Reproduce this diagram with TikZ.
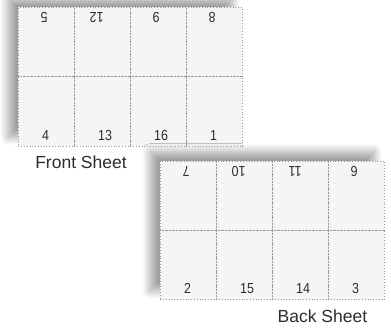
\documentclass[tikz,border=0pt]{standalone}
\usepackage{fontspec}
\setmainfont{Liberation Sans}
\newfontfamily\pagenumfont[FakeStretch=0.86]{Liberation Sans}
\definecolor{SheetGray}{RGB}{245, 245, 245}
\definecolor{RuleGray}{RGB}{150, 150, 150}
\definecolor{NumDark}{RGB}{45, 45, 45}
\usetikzlibrary{positioning, shadows.blur}

\begin{document}
\begin{tikzpicture}[x=1pt, y=-1pt,
  sheet/.style={fill=SheetGray, minimum width=224pt, minimum height=139pt, inner sep=0pt,
    blur shadow={shadow xshift=-10pt, shadow yshift=9pt, shadow blur radius=8pt, shadow blur steps=24, shadow opacity=38}},
  cell/.style={draw=RuleGray, dash pattern=on 0.9pt off 1.9pt, line width=0.8pt, minimum width=56pt, minimum height=69.5pt, inner sep=0pt},
  pagenum/.style={font=\fontsize{14.5}{15}\pagenumfont, text=NumDark, inner sep=0pt},
  sheettitle/.style={font=\fontsize{17.5}{20}\selectfont, text=NumDark, inner sep=0pt}]
\useasboundingbox (0,0) rectangle (391,329);
\node[sheet, anchor=north west] (front) at (18,7) {};
\node[sheet, anchor=north west] (back) at (160,160.5) {};
% front sheet: upper row printed upside down
\foreach \i/\t/\b in {1/5/4, 2/12/13, 3/9/16, 4/8/1} {
  \node[cell, anchor=north west, xshift={(\i-1)*56pt}] (ft\i) at (front.north west) {};
  \node[cell, anchor=south west, xshift={(\i-1)*56pt}] (fb\i) at (front.south west) {};
  \node[pagenum, rotate=180, anchor=base west] (nft\i) at ([xshift=-27pt, yshift=-6pt]ft\i.north east) {\t};
  \node[pagenum, anchor=base west] (nfb\i) at ([xshift=24pt, yshift=6pt]fb\i.south west) {\b};
}
% back sheet
\foreach \i/\t/\b in {1/7/2, 2/10/15, 3/11/14, 4/6/3} {
  \node[cell, anchor=north west, xshift={(\i-1)*56pt}] (bt\i) at (back.north west) {};
  \node[cell, anchor=south west, xshift={(\i-1)*56pt}] (bb\i) at (back.south west) {};
  \node[pagenum, rotate=180, anchor=base west] (nbt\i) at ([xshift=-27pt, yshift=-6pt]bt\i.north east) {\t};
  \node[pagenum, anchor=base west] (nbb\i) at ([xshift=24pt, yshift=6pt]bb\i.south west) {\b};
}
\node[sheettitle, anchor=base] (ftitle) at ([xshift=63pt, yshift=-22pt]front.south west) {Front Sheet};
\node[sheettitle, anchor=base] (btitle) at ([xshift=-62pt, yshift=-23pt]back.south east) {Back Sheet};
\end{tikzpicture}
\end{document}
